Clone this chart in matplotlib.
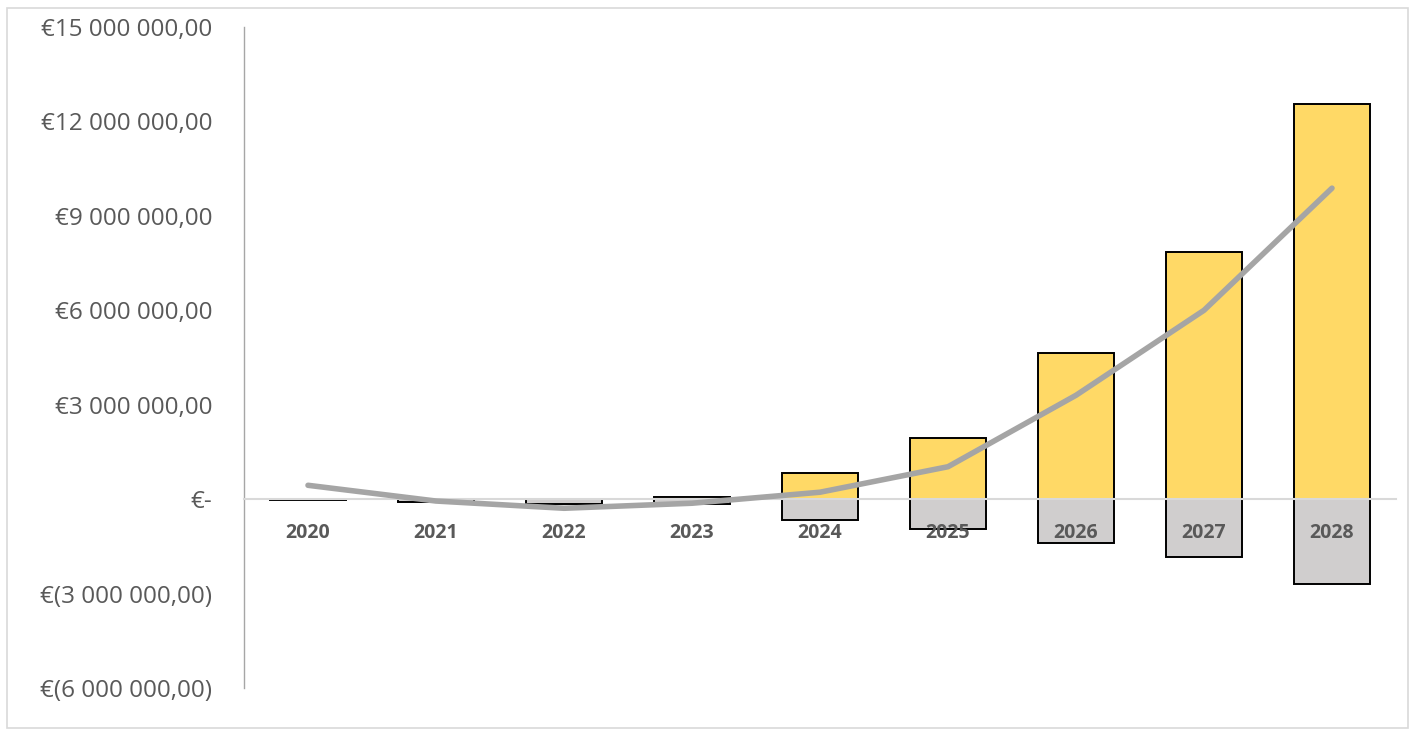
import matplotlib
matplotlib.use("Agg")
import matplotlib.pyplot as plt
from matplotlib.patches import Rectangle
from matplotlib.ticker import FuncFormatter, MultipleLocator
import numpy as np

# values (in euros)
years = ['2020', '2021', '2022', '2023', '2024', '2025', '2026', '2027', '2028']
income = [0, 0, 0, 70000, 830000, 1940000, 4640000, 7850000, 12550000]
costs = [-20000, -80000, -150000, -150000, -670000, -950000, -1400000, -1840000, -2700000]
net = [440000, -60000, -290000, -130000, 220000, 1030000, 3300000, 6000000, 9880000]

YELLOW = '#FFD966'
GREY_BAR = '#D0CECE'
LINE = '#A5A5A5'
TEXT = '#595959'


def euro(v, pos=None):
    # Excel accounting style: €1 000,00 / €(1 000,00) / €-
    if abs(v) < 1:
        return '€-'
    s = '{:,.2f}'.format(abs(v)).replace(',', ' ').replace('.', ',')
    if v < 0:
        return '€(' + s + ')'
    return '€' + s


fig = plt.figure(figsize=(14.11, 7.31), dpi=100)
ax = fig.add_axes([244 / 1411, 1 - 688 / 731, (1396 - 244) / 1411, (688 - 27) / 731])

# light frame around the whole chart
fig.patches.append(Rectangle((7 / 1411, 3 / 731), 1401 / 1411, 720 / 731,
                             transform=fig.transFigure, fill=False,
                             edgecolor='#D9D9D9', linewidth=1.2))

x = np.arange(len(years))
ax.bar(x, income, width=0.59, color=YELLOW, edgecolor='black', linewidth=1.4, zorder=1)
ax.bar(x, costs, width=0.59, color=GREY_BAR, edgecolor='black', linewidth=1.4, zorder=1)
ax.plot(x, net, color=LINE, linewidth=4, solid_capstyle='round', zorder=3)

# spine position first: moving it resets the tick labels
for side in ['top', 'right']:
    ax.spines[side].set_visible(False)
ax.spines['bottom'].set_position(('data', 0))
ax.spines['bottom'].set_color('#D9D9D9')
ax.spines['bottom'].set_linewidth(1.5)
ax.spines['left'].set_color('#A6A6A6')
ax.spines['left'].set_linewidth(1)

ax.set_xlim(-0.5, 8.5)
ax.set_ylim(-6000000, 15000000)
ax.yaxis.set_major_locator(MultipleLocator(3000000))
ax.yaxis.set_major_formatter(FuncFormatter(euro))

ax.set_xticks(x)
ax.set_xticklabels(years)
ax.tick_params(axis='x', length=0, pad=17, labelsize=14, labelcolor=TEXT)
ax.tick_params(axis='y', length=0, pad=23, labelsize=17.5, labelcolor=TEXT)
for lab in ax.get_xticklabels():
    lab.set_family('Open Sans')
    lab.set_fontweight('bold')
for lab in ax.get_yticklabels():
    lab.set_family('Open Sans')

fig.savefig('out.png', dpi=100)
